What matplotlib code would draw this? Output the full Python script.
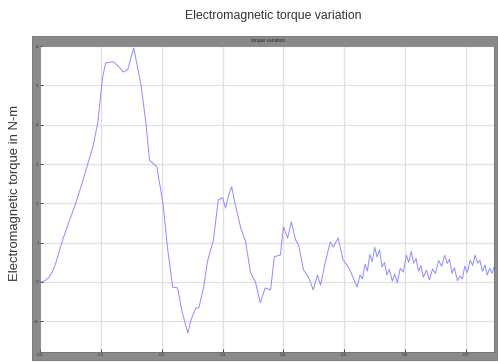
import matplotlib
matplotlib.use("Agg")
from matplotlib import pyplot as plt
from matplotlib.patches import Rectangle


# simulated torque response (time in s, torque in N-m)
time = [0.002, 0.008, 0.015, 0.020, 0.026, 0.032, 0.039, 0.047, 0.059, 0.069,
        0.079, 0.087, 0.095, 0.103, 0.108,
        0.120, 0.130, 0.136, 0.144, 0.154, 0.166, 0.174, 0.180, 0.192, 0.202,
        0.210, 0.218, 0.226, 0.234, 0.243, 0.248, 0.256, 0.261, 0.269, 0.275,
        0.285, 0.293, 0.300, 0.305, 0.310, 0.315, 0.321, 0.330, 0.338, 0.346,
        0.354, 0.362, 0.370, 0.379, 0.385, 0.395, 0.400, 0.407, 0.413, 0.420,
        0.425, 0.433, 0.441, 0.449, 0.456, 0.461, 0.469, 0.477, 0.482, 0.490,
        0.498, 0.507, 0.515, 0.521, 0.526, 0.530, 0.534, 0.538, 0.542, 0.546,
        0.550, 0.554, 0.558, 0.562, 0.566, 0.570, 0.574, 0.579, 0.583, 0.587,
        0.592, 0.597, 0.602, 0.606, 0.610, 0.614, 0.618, 0.622, 0.626, 0.630,
        0.635, 0.640, 0.645, 0.650, 0.655, 0.660, 0.665, 0.669, 0.673, 0.677,
        0.681, 0.686, 0.690, 0.694, 0.698, 0.702, 0.707, 0.711, 0.715, 0.719,
        0.723, 0.727, 0.731, 0.735, 0.739, 0.743, 0.746]
torque = [0.00, 0.03, 0.12, 0.25, 0.48, 0.80, 1.15, 1.50, 2.01, 2.50,
          3.03, 3.44, 4.05, 5.22, 5.57,
          5.60, 5.47, 5.34, 5.39, 5.95, 5.01, 4.05, 3.10, 2.93, 2.01,
          0.81, -0.13, -0.15, -0.79, -1.30, -0.97, -0.66, -0.66, -0.13, 0.51,
          1.07, 2.09, 2.14, 1.88, 2.21, 2.42, 1.96, 1.37, 1.02, 0.23,
          0.00, -0.53, -0.15, -0.20, 0.64, 0.69, 1.40, 1.12, 1.53, 1.07,
          0.94, 0.31, 0.13, -0.20, 0.18, -0.08, 0.51, 1.02, 0.89, 1.12,
          0.56, 0.38, 0.10, -0.13, 0.18, 0.08, 0.45, 0.28, 0.70, 0.52,
          0.88, 0.64, 0.82, 0.38, 0.50, 0.18, 0.32, 0.02, 0.20, -0.02,
          0.35, 0.25, 0.68, 0.50, 0.78, 0.48, 0.60, 0.28, 0.42, 0.12,
          0.30, 0.05, 0.33, 0.22, 0.55, 0.40, 0.68, 0.47, 0.58, 0.22,
          0.36, 0.03, 0.15, 0.08, 0.40, 0.24, 0.55, 0.42, 0.68, 0.48,
          0.55, 0.27, 0.43, 0.18, 0.35, 0.22, 0.38]

x_ticks = [0, 0.1, 0.2, 0.3, 0.4, 0.5, 0.6, 0.7]
y_ticks = [-1, 0, 1, 2, 3, 4, 5, 6]


def main():
    fig = plt.figure(figsize=(4.98, 3.62), dpi=100)
    fig.patch.set_facecolor("white")

    # grey scope frame around the plotting area
    frame = Rectangle((0.064, 0.0055), 0.934, 0.895, transform=fig.transFigure,
                      facecolor="#8a8a8a", edgecolor="#6e6e6e", lw=0.6, zorder=-1)
    fig.patches.append(frame)

    ax = fig.add_axes([0.0803, 0.0276, 0.9116, 0.8453])
    ax.set_zorder(1)
    ax.set_facecolor("white")
    ax.plot(time, torque, color="#8c8cff", lw=0.7)

    ax.set_xlim(0, 0.746)
    ax.set_ylim(-1.78, 6.0)
    ax.set_xticks(x_ticks)
    ax.set_yticks(y_ticks)
    ax.grid(True, color="#e0e0e0", lw=0.9)
    ax.tick_params(direction="in", length=2, width=0.5, labelsize=3,
                   labelcolor="#333333", pad=1)
    for s in ax.spines.values():
        s.set_color("#6e6e6e")
        s.set_linewidth(0.5)

    fig.text(0.538, 0.887, "torque variation", fontsize=3.5, color="#222222",
             ha="center", va="center", family="Liberation Sans")
    fig.text(0.548, 0.956, "Electromagnetic torque variation", fontsize=8.8,
             color="#333333", ha="center", va="center", family="Liberation Sans")
    fig.text(0.030, 0.467, "Electromagnetic torque in N-m", fontsize=9.4,
             color="#333333", rotation=90, ha="center", va="center",
             family="Liberation Sans")

    fig.savefig("out.png", dpi=100)


if __name__ == "__main__":
    main()
